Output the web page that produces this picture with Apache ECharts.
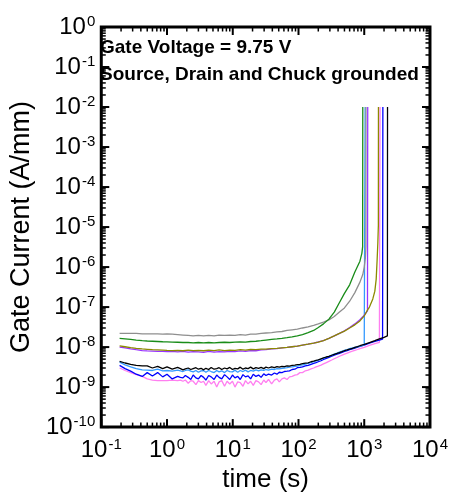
<!DOCTYPE html>
<html>
<head>
<meta charset="utf-8">
<script src="https://cdn.jsdelivr.net/npm/echarts@6/dist/echarts.min.js"></script>
<style>
  html, body { margin: 0; padding: 0; background: #fff; }
  #chart { width: 451px; height: 498px; }
</style>
</head>
<body>
<div id="chart"></div>
<script>
// Gate current vs. stress time at Vg = 9.75 V, eight devices.
// Currents are listed in nA/mm (x 1e-9 A/mm); each trace ends with a jump to the 1e-2 A/mm compliance.
const NANO = 1e-9;

// Sampling times (s) for the smoother, higher-leakage devices
const T = [0.19, 0.23, 0.28, 0.34, 0.42, 0.5, 0.6, 0.72, 0.86, 1.0, 1.2, 1.45, 1.75, 2.1, 2.5, 3.0, 3.6, 4.3, 5.2, 6.2,
           7.5, 9, 10.8, 13, 15.6, 18.7, 22.5, 27, 32, 39, 47, 56, 67, 80, 96, 115, 140, 170, 200, 240,
           290, 350, 420, 500, 600, 720, 860];

// Denser sampling times (s) for the noisy, low-leakage devices
const TF = [0.19, 0.23, 0.28, 0.34, 0.42, 0.5, 0.6, 0.72, 0.86, 1.0, 1.2, 1.45,
            1.6, 1.75, 1.9, 2.1, 2.3, 2.5, 2.75, 3.0, 3.3, 3.6,
            3.9, 4.3, 4.7, 5.2, 5.7, 6.2, 6.8, 7.5, 8.2, 9,
            9.9, 10.8, 11.9, 13, 14.3, 15.6, 17.1, 18.7, 20.5, 22.5,
            24.7, 27, 29.6, 32, 35, 39, 43, 47, 51, 56,
            61, 67, 73, 80, 88, 96, 105, 115, 127, 140,
            155, 170, 185, 200, 220, 240, 265, 290, 320, 350,
            385, 420, 460, 500, 550, 600, 660, 720, 790, 860];

const grayI   = [22, 22, 22, 22, 21.5, 21.5, 21.5, 21.5, 21, 21.5, 21, 20.5, 20, 19.5, 19, 19.5, 19, 19.5, 19, 20,
                 19.5, 20, 19.5, 20.5, 20, 21, 21, 22, 22.5, 23, 24, 24.5, 26, 27, 28, 30, 32, 35, 38, 42,
                 48, 58, 75, 95, 140, 230, 420];
const grayTailT = [950, 1000, 1040, 1060, 1062];
const grayTailI = [650, 1000, 1700, 3300, 1e7];

const greenI  = [16.5, 16, 15.5, 15, 14.5, 14.2, 14, 13.8, 13.6, 13.5, 13.3, 13.2, 13, 13, 12.8, 13, 12.7, 13, 12.8, 13,
                 13.2, 13, 13.3, 13.5, 13.3, 13.8, 14, 14.5, 15, 15.5, 16, 16.5, 17.2, 18, 19, 20.5, 23, 26, 31, 38,
                 50, 75, 130, 220, 360, 750, 1400];
const greenTailT = [920, 945, 950];
const greenTailI = [2200, 3200, 1e7];

const oliveI  = [10.7, 10.2, 9.7, 9.3, 9.0, 8.8, 8.6, 8.5, 8.4, 8.3, 8.2, 8.3, 8.1, 8.4, 8.2, 8.3, 8.1, 8.4, 8.2, 8.5,
                 8.2, 8.4, 8.3, 8.6, 8.4, 8.7, 8.6, 8.9, 8.9, 9.2, 9.3, 9.6, 9.8, 10.2, 10.6, 11.2, 11.8, 12.5, 13.3, 14.5,
                 16.5, 19, 22, 25, 30, 36, 45];
const oliveTailT = [1000, 1100, 1200, 1350, 1450, 1520, 1570, 1610, 1640, 1645];
const oliveTailI = [60, 80, 100, 160, 250, 500, 1500, 4000, 11000, 1e7];

const purpleI = [10, 9.5, 9, 8.6, 8.2, 8, 7.9, 7.8, 7.8, 7.7, 7.8, 7.6, 7.8, 7.5, 7.7, 7.6, 7.4, 7.8, 7.5, 7.7,
                 7.6, 7.8, 7.7, 8, 7.8, 8.2, 8.1, 8.5, 8.6, 9, 9.2, 9.5, 9.8, 10.2, 10.6, 11.2, 11.8, 12.6, 13.4, 14.6,
                 16.5, 19, 22, 25.5, 31, 38, 48];
const purpleTailT = [960, 1050, 1120, 1130];
const purpleTailI = [58, 70, 80, 1e7];

const pinkI   = [3.0, 2.6, 2.3, 2.05, 1.85, 1.6, 1.5, 1.45, 1.45, 1.45, 1.5, 1.45,
                 1.5, 1.4, 1.5, 1.25, 1.45, 1.4, 1.15, 1.45, 1.3, 1.4,
                 1.1, 1.45, 1.2, 1.4, 1.0, 1.35, 1.45, 1.05, 1.4, 1.2,
                 1.4, 1.0, 1.35, 1.3, 1.05, 1.45, 1.2, 1.4, 1.1, 1.45,
                 1.35, 1.15, 1.5, 1.3, 1.55, 1.2, 1.5, 1.6, 1.35, 1.6,
                 1.7, 1.55, 1.8, 1.85, 2.0, 2.05, 2.3, 2.3, 2.55, 2.65,
                 2.85, 3.0, 3.2, 3.35, 3.55, 3.8, 4.1, 4.4, 4.75, 5.1,
                 5.5, 5.9, 6.3, 6.7, 7.1, 7.5, 7.9, 8.3, 8.7, 9.1];
const pinkTailT = [1000, 1200, 1450, 1700, 1740];
const pinkTailI = [9.8, 11, 12.2, 13.2, 1e7];

const blueI   = [3.5, 2.9, 2.5, 2.1, 1.85, 2.3, 1.9, 2.3, 1.8, 2.1, 1.6, 1.85,
                 1.75, 1.7, 1.95, 1.75, 1.55, 2.0, 1.7, 1.6, 1.95, 1.75,
                 1.5, 1.95, 1.8, 1.55, 2.0, 1.75, 1.6, 2.05, 1.8, 1.55,
                 2.0, 1.7, 1.85, 1.55, 2.05, 1.8, 1.9, 1.6, 2.1, 1.85,
                 2.0, 1.75, 2.15, 1.95, 2.1, 2.0, 2.25, 2.1, 2.35, 2.3,
                 2.45, 2.5, 2.55, 2.75, 2.8, 3.05, 3.1, 3.2, 3.4, 3.5,
                 3.7, 3.9, 4.1, 4.3, 4.55, 4.9, 5.2, 5.5, 5.9, 6.3,
                 6.65, 7.0, 7.4, 7.8, 8.2, 8.6, 9.0, 9.4, 9.9, 10.4];
const blueTailT = [1000, 1200, 1450, 1700, 1900, 1920];
const blueTailI = [11.2, 12.5, 13.8, 15, 15.8, 1e7];

const skyI    = [4.2, 3.6, 3.2, 2.9, 2.7, 2.65, 2.6, 2.8, 2.55, 2.6, 2.5, 2.65,
                 2.55, 2.45, 2.6, 2.7, 2.5, 2.4, 2.6, 2.35, 2.55, 2.6,
                 2.35, 2.6, 2.45, 2.3, 2.6, 2.4, 2.55, 2.3, 2.6, 2.45,
                 2.4, 2.65, 2.35, 2.6, 2.45, 2.65, 2.4, 2.6, 2.5, 2.7,
                 2.55, 2.7, 2.6, 2.75, 2.65, 2.8, 2.75, 2.9, 2.85, 2.95,
                 3.0, 3.05, 3.15, 3.2, 3.3, 3.35, 3.5, 3.6, 3.75, 3.9,
                 4.1, 4.3, 4.5, 4.7, 5.0, 5.3, 5.6, 5.9, 6.3, 6.7,
                 7.1, 7.5, 7.9, 8.3, 8.7, 9.1, 9.5, 9.9, 10.3, 10.6];
const skyTailT = [1000, 1030, 1032];
const skyTailI = [11.3, 11.5, 1e7];

const blackI  = [4.4, 4.0, 3.7, 3.5, 3.4, 3.4, 3.0, 3.3, 2.9, 3.2, 2.8, 3.1,
                 2.9, 2.7, 2.85, 3.0, 2.75, 2.9, 3.05, 2.8, 2.95, 2.7,
                 2.95, 2.75, 3.1, 2.8, 2.9, 3.05, 2.75, 3.0, 2.85, 3.1,
                 2.75, 2.95, 2.85, 3.15, 2.8, 3.0, 2.9, 3.15, 2.85, 3.05,
                 2.95, 3.1, 2.9, 3.15, 3.0, 3.2, 3.05, 3.25, 3.15, 3.3,
                 3.25, 3.4, 3.35, 3.5, 3.55, 3.65, 3.7, 3.85, 3.95, 4.05,
                 4.3, 4.45, 4.65, 4.8, 5.1, 5.35, 5.65, 5.85, 6.25, 6.6,
                 6.95, 7.3, 7.7, 8.1, 8.5, 8.9, 9.3, 9.8, 10.3, 10.8];
const blackTailT = [1000, 1200, 1450, 1700, 2000, 2250, 2260];
const blackTailI = [11.7, 13, 14.5, 16, 17.5, 19, 1e7];

// Decades used for the frame ticks
const X_DECADES = [0.1, 1, 10, 100, 1000, 10000];
const Y_DECADES = [1e-10, 1e-9, 1e-8, 1e-7, 1e-6, 1e-5, 1e-4, 1e-3, 1e-2, 1e-1, 1];

const NOTE_1 = 'Gate Voltage = 9.75 V';
const NOTE_2 = 'Source, Drain and Chuck grounded';

function trace(times, vals, tailT, tailI) {
  const pts = vals.map((v, i) => [times[i], v * NANO]);
  tailT.forEach((t, i) => pts.push([t, tailI[i] * NANO]));
  return pts;
}

const traces = [
  { color: '#ff7ff0', data: trace(TF, pinkI, pinkTailT, pinkTailI) },
  { color: '#0000ff', data: trace(TF, blueI, blueTailT, blueTailI) },
  { color: '#3399ff', data: trace(TF, skyI, skyTailT, skyTailI) },
  { color: '#000000', data: trace(TF, blackI, blackTailT, blackTailI) },
  { color: '#8f8f8f', data: trace(T, grayI, grayTailT, grayTailI) },
  { color: '#198c19', data: trace(T, greenI, greenTailT, greenTailI) },
  { color: '#9933ff', data: trace(T, purpleI, purpleTailT, purpleTailI) },
  { color: '#8c8a00', data: trace(T, oliveI, oliveTailT, oliveTailI) }
];

const FONT = "'Liberation Sans', Arial, sans-serif";

function powLabel(v) {
  const e = Math.round(Math.log10(v));
  return '{b|10}{e|' + e + '}';
}
const richPow = {
  b: { fontSize: 24, fontFamily: FONT, color: '#000', lineHeight: 26 },
  e: { fontSize: 15, fontFamily: FONT, color: '#000', verticalAlign: 'top', lineHeight: 15, padding: [0, 0, 0, 1] }
};

// Inward ticks (decades + 2..9 minors) on all four sides of the frame
function renderTicks(params, api) {
  const cs = params.coordSys;
  const L = cs.x, R = cs.x + cs.width, Tp = cs.y, B = cs.y + cs.height;
  const kids = [];
  const MAJ = 8, MIN = 4.5;
  X_DECADES.forEach(d => {
    for (let k = 1; k <= 9; k++) {
      const v = d * k;
      if (v > X_DECADES[X_DECADES.length - 1] * 1.0001) break;
      const px = api.coord([v, 1e-5])[0];
      const len = k === 1 ? MAJ : MIN;
      const lw = k === 1 ? 2 : 1.5;
      kids.push({ type: 'line', shape: { x1: px, y1: B, x2: px, y2: B - len }, style: { stroke: '#000', lineWidth: lw } });
      kids.push({ type: 'line', shape: { x1: px, y1: Tp, x2: px, y2: Tp + len }, style: { stroke: '#000', lineWidth: lw } });
    }
  });
  Y_DECADES.forEach(d => {
    for (let k = 1; k <= 9; k++) {
      const v = d * k;
      if (v > Y_DECADES[Y_DECADES.length - 1] * 1.0001) break;
      const py = api.coord([1, v])[1];
      const len = k === 1 ? MAJ : MIN;
      const lw = k === 1 ? 2 : 1.5;
      kids.push({ type: 'line', shape: { x1: L, y1: py, x2: L + len, y2: py }, style: { stroke: '#000', lineWidth: lw } });
      kids.push({ type: 'line', shape: { x1: R, y1: py, x2: R - len, y2: py }, style: { stroke: '#000', lineWidth: lw } });
    }
  });
  return { type: 'group', children: kids };
}

const chart = echarts.init(document.getElementById('chart'), null, { renderer: 'canvas' });

const series = traces.map(s => ({
  type: 'line',
  data: s.data,
  showSymbol: false,
  symbol: 'none',
  lineStyle: { color: s.color, width: 1.3 },
  itemStyle: { color: s.color },
  animation: false,
  z: 2
}));
series.push({
  type: 'custom',
  renderItem: renderTicks,
  data: [[1, 1e-5]],
  silent: true,
  animation: false,
  z: 5
});

chart.setOption({
  animation: false,
  backgroundColor: '#fff',
  grid: {
    left: 91, top: 27, right: 18, bottom: 68,
    show: true, borderColor: '#000', borderWidth: 3, backgroundColor: 'transparent'
  },
  xAxis: {
    type: 'log', logBase: 10, min: 0.1, max: 10000, interval: 1,
    name: 'time (s)', nameLocation: 'middle', nameGap: 37,
    nameTextStyle: { fontSize: 26, fontFamily: FONT, color: '#000' },
    axisLine: { show: false }, axisTick: { show: false }, splitLine: { show: false },
    axisLabel: { margin: 10, formatter: powLabel, rich: richPow }
  },
  yAxis: {
    type: 'log', logBase: 10, min: 1e-10, max: 1, interval: 1,
    name: 'Gate Current (A/mm)', nameLocation: 'middle', nameGap: 46,
    nameTextStyle: { fontSize: 27, fontFamily: FONT, color: '#000' },
    axisLine: { show: false }, axisTick: { show: false }, splitLine: { show: false },
    axisLabel: { margin: 6, formatter: powLabel, rich: richPow }
  },
  graphic: [
    { type: 'text', left: 100, top: 38, z: 10,
      style: { text: NOTE_1, font: "bold 19px 'Liberation Sans', Arial, sans-serif", fill: '#000' } },
    { type: 'text', left: 100, top: 65, z: 10,
      style: { text: NOTE_2, font: "bold 19px 'Liberation Sans', Arial, sans-serif", fill: '#000' } }
  ],
  series: series
});
</script>
</body>
</html>
